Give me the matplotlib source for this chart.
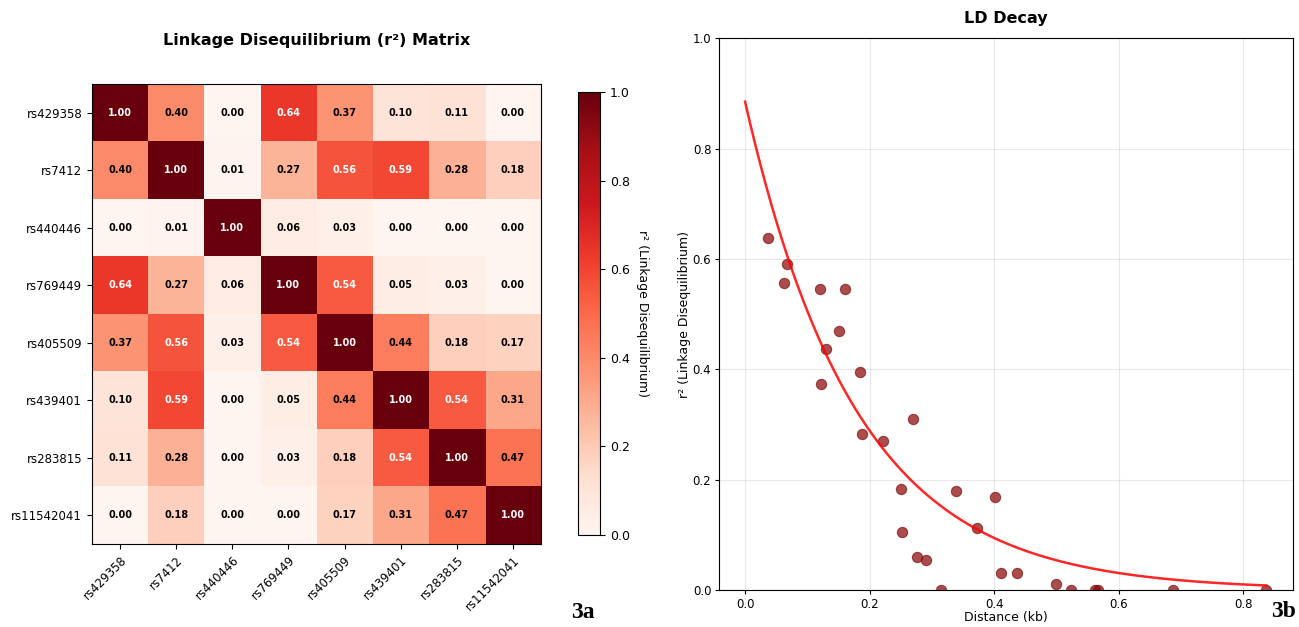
import matplotlib
matplotlib.use('Agg')
import matplotlib.pyplot as plt
import numpy as np

# SNP 목록과 r^2 행렬
snps = ['rs429358', 'rs7412', 'rs440446', 'rs769449',
        'rs405509', 'rs439401', 'rs283815', 'rs11542041']

r2 = np.array([
    [1.00, 0.40, 0.00, 0.64, 0.37, 0.10, 0.11, 0.00],
    [0.40, 1.00, 0.01, 0.27, 0.56, 0.59, 0.28, 0.18],
    [0.00, 0.01, 1.00, 0.06, 0.03, 0.00, 0.00, 0.00],
    [0.64, 0.27, 0.06, 1.00, 0.54, 0.05, 0.03, 0.00],
    [0.37, 0.56, 0.03, 0.54, 1.00, 0.44, 0.18, 0.17],
    [0.10, 0.59, 0.00, 0.05, 0.44, 1.00, 0.54, 0.31],
    [0.11, 0.28, 0.00, 0.03, 0.18, 0.54, 1.00, 0.47],
    [0.00, 0.18, 0.00, 0.00, 0.17, 0.31, 0.47, 1.00],
])

# LD decay 산점도 (거리 kb, r^2)
dist = [0.037, 0.068, 0.062, 0.120, 0.160, 0.150, 0.130, 0.185, 0.122, 0.270,
        0.188, 0.222, 0.250, 0.338, 0.401, 0.373, 0.252, 0.276, 0.291, 0.411,
        0.437, 0.499, 0.314, 0.523, 0.561, 0.567, 0.687, 0.837]
ld = [0.638, 0.590, 0.557, 0.545, 0.545, 0.470, 0.437, 0.395, 0.374, 0.310,
      0.282, 0.270, 0.183, 0.180, 0.169, 0.113, 0.105, 0.059, 0.055, 0.031,
      0.030, 0.010, 0.000, 0.000, 0.000, 0.000, 0.000, 0.000]

# 지수 감소 적합 파라미터 r2 = a * exp(-b * d)
fit_a = 0.885
fit_b = 5.6

fig = plt.figure(figsize=(12.99, 6.27), dpi=100)

# --- 3a: 히트맵
ax1 = fig.add_axes([0.0708, 0.1329, 0.3457, 0.7327])
im = ax1.imshow(r2, cmap='Reds', vmin=0, vmax=1, aspect='auto')
ax1.set_xticks(range(len(snps)))
ax1.set_yticks(range(len(snps)))
ax1.set_xticklabels(snps, rotation=45, ha='right', rotation_mode='anchor', fontsize=8.5)
ax1.set_yticklabels(snps, fontsize=8.5)
for i in range(len(snps)):
    for j in range(len(snps)):
        v = r2[i, j]
        ax1.text(j, i, '%.2f' % v, ha='center', va='center', fontsize=7,
                 fontweight='bold', color='white' if v > 0.5 else 'black')
ax1.set_title('Linkage Disequilibrium (r²) Matrix', fontsize=11.5, fontweight='bold', pad=28)

cax = fig.add_axes([0.445, 0.1467, 0.0169, 0.7065])
cb = fig.colorbar(im, cax=cax)
cb.ax.tick_params(labelsize=9)
cb.set_label('r² (Linkage Disequilibrium)', rotation=270, labelpad=14, fontsize=9)

# --- 3b: LD decay
ax2 = fig.add_axes([0.5535, 0.059, 0.4415, 0.880])
ax2.scatter(dist, ld, s=55, color='darkred', alpha=0.7, edgecolors='#7a1010', linewidths=0.8, zorder=2)
xs = np.linspace(0, max(dist), 200)
ax2.plot(xs, fit_a * np.exp(-fit_b * xs), color='red', lw=1.8, alpha=0.85, zorder=3)
ax2.set_ylim(0, 1.0)
ax2.set_xlabel('Distance (kb)', fontsize=9, labelpad=0)
ax2.set_ylabel('r² (Linkage Disequilibrium)', fontsize=9, labelpad=1)
ax2.set_title('LD Decay', fontsize=11.5, fontweight='bold', pad=11)
ax2.tick_params(labelsize=8.5, length=3, pad=2.5)
ax2.grid(True, alpha=0.3)

fig.text(0.44, 0.0144, '3a', fontsize=17, fontweight='bold', family='Liberation Serif')
fig.text(0.9785, 0.016, '3b', fontsize=17, fontweight='bold', family='Liberation Serif')

fig.savefig('out.png', dpi=100)
